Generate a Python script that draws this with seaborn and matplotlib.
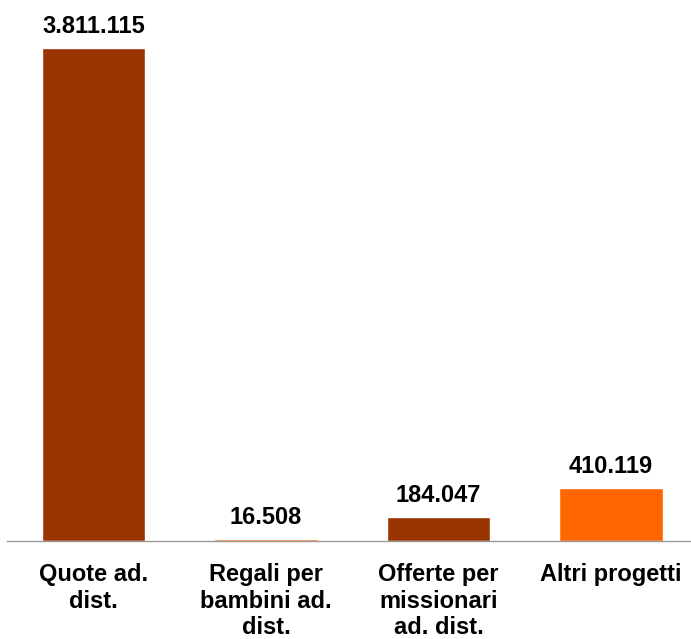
import matplotlib
matplotlib.use("Agg")
import matplotlib.pyplot as plt
import seaborn as sns
import pandas as pd

# dati
categorie = ["Quote ad.\ndist.", "Regali per\nbambini ad.\ndist.", "Offerte per\nmissionari\nad. dist.", "Altri progetti"]
valori = [3811115, 16508, 184047, 410119]
etichette = ["3.811.115", "16.508", "184.047", "410.119"]
colori = ["#993300", "#FF6600", "#993300", "#FF6600"]

sns.set_style("white")
plt.rcParams['font.family'] = ['Liberation Sans', 'DejaVu Sans']
plt.rcParams['text.color'] = 'black'
plt.rcParams['xtick.color'] = 'black'

df = pd.DataFrame({"categoria": categorie, "valore": valori})

fig = plt.figure(figsize=(6.91, 6.39), dpi=100)
ax = fig.add_axes([7.25 / 691, 98 / 639, 690 / 691, 493 / 639])

sns.barplot(data=df, x="categoria", y="valore", hue="categoria", palette=colori,
            width=0.6, legend=False, ax=ax, saturation=1)

ax.set_xlim(-0.5, 3.5)
ax.set_ylim(0, max(valori))

for i, (v, lab) in enumerate(zip(valori, etichette)):
    ax.annotate(lab, (i, v), xytext=(0, 7), textcoords="offset points",
                ha="center", va="bottom", fontsize=17, fontweight="bold", color="black")

# spine e tacche
for s in ["left", "top", "right"]:
    ax.spines[s].set_visible(False)
ax.spines["bottom"].set_color("#999999")
ax.spines["bottom"].set_linewidth(1)
ax.set_yticks([])
ax.set_xlabel("")
ax.set_ylabel("")
ax.set_xticks([-0.5, 0.5, 1.5, 2.5, 3.5], minor=True)
ax.tick_params(axis="x", which="minor", length=7, color="#999999", direction="out", width=1)
ax.tick_params(axis="x", which="major", length=0, pad=16, labelcolor="black")
ax.set_xticks(range(len(categorie)))
ax.set_xticklabels(categorie, fontsize=17, fontweight="bold", linespacing=1.2)

fig.savefig("out.png", dpi=100)
